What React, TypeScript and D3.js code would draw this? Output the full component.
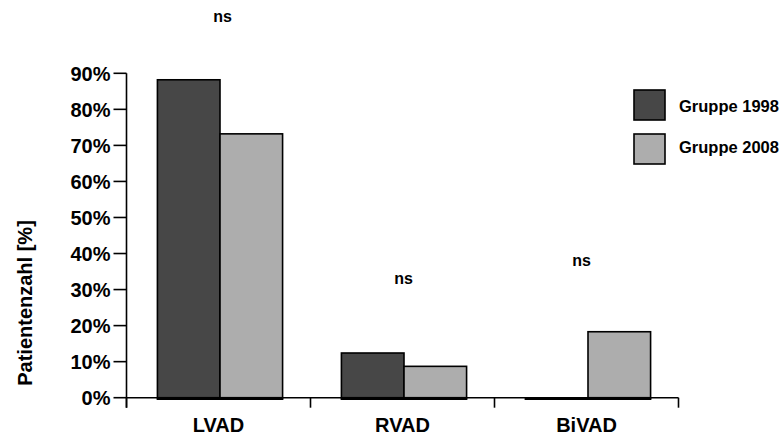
import React from "react";
import * as d3 from "d3";

// Share of patients per assist-device type, by cohort
const categories = ["LVAD", "RVAD", "BiVAD"];
const seriesNames = ["Gruppe 1998", "Gruppe 2008"];
const gruppe1998 = [88.2, 12.4, 0];
const gruppe2008 = [73.2, 8.7, 18.3];
const yTicks = [0, 10, 20, 30, 40, 50, 60, 70, 80, 90];
// Significance annotations: category, height (in % units)
const nsCategories = ["LVAD", "RVAD", "BiVAD"];
const nsLevels = [104.2, 31.5, 36.5];
const nsText = ["ns", "ns", "ns"];

const W = 784;
const H = 435;
const colors = ["#474747", "#adadad"];
const FONT = "'Liberation Sans', Arial, sans-serif";

export default function App() {
  const left = 126.5;
  const right = 678.5;
  const y = d3.scaleLinear().domain([0, 90]).range([397.7, 73.3]);
  const x = d3.scaleBand<string>().domain(categories).range([left, right]).padding(0);
  const xSub = d3
    .scaleBand<string>()
    .domain(seriesNames)
    .range([0, x.bandwidth()])
    .paddingInner(0)
    .paddingOuter(0.47);
  const series = [gruppe1998, gruppe2008];
  const y0 = y(0);

  return (
    <svg
      width={W}
      height={H}
      style={{ position: "absolute", left: 0, top: 0, background: "#fff" }}
      fontFamily={FONT}
      fontWeight="bold"
    >
      {/* bars */}
      {categories.map((c, i) => (
        <g key={c} transform={`translate(${x(c)! + 1.5},0)`}>
          {series.map((vals, s) => {
            const bx = xSub(seriesNames[s])!;
            const by = y(vals[i]);
            return (
              <g key={s}>
                <rect
                  x={bx}
                  y={by}
                  width={xSub.bandwidth()}
                  height={Math.max(0, y0 - by)}
                  fill={colors[s]}
                  stroke="#000"
                  strokeWidth={1.6}
                />
                <line
                  x1={bx - 0.8}
                  x2={bx + xSub.bandwidth() + 0.8}
                  y1={y0 + 0.8}
                  y2={y0 + 0.8}
                  stroke="#000"
                  strokeWidth={3}
                />
              </g>
            );
          })}
        </g>
      ))}

      {/* y axis */}
      <line x1={left} x2={left} y1={y(90)} y2={y0 + 10} stroke="#000" strokeWidth={1.6} />
      {yTicks.map((t) => (
        <g key={t}>
          <line x1={left - 13} x2={left} y1={y(t)} y2={y(t)} stroke="#000" strokeWidth={1.6} />
          <text
            x={left - 16}
            y={y(t)}
            dy="0.36em"
            textAnchor="end"
            fontSize={20}
            fill="#000"
          >
            {t}%
          </text>
        </g>
      ))}

      {/* x axis */}
      <line x1={left} x2={right} y1={y0} y2={y0} stroke="#000" strokeWidth={1.6} />
      {[...categories.map((c) => x(c)!), right].map((px, i) => (
        <line key={i} x1={px} x2={px} y1={y0} y2={y0 + 10} stroke="#000" strokeWidth={1.6} />
      ))}
      {categories.map((c) => (
        <text
          key={c}
          x={x(c)! + x.bandwidth() / 2}
          y={432}
          textAnchor="middle"
          fontSize={20}
          fill="#000"
        >
          {c}
        </text>
      ))}

      {/* y axis title */}
      <text
        transform={`translate(31.5,303) rotate(-90)`}
        textAnchor="middle"
        fontSize={20}
        fill="#000"
      >
        Patientenzahl [%]
      </text>

      {/* significance labels */}
      {nsCategories.map((c, i) => (
        <text
          key={c}
          x={x(c)! + x.bandwidth() / 2 + (i === 0 ? 4 : i === 2 ? -5 : 1)}
          y={y(nsLevels[i])}
          textAnchor="middle"
          fontSize={16}
          fill="#000"
        >
          {nsText[i]}
        </text>
      ))}

      {/* legend */}
      {seriesNames.map((name, s) => (
        <g key={name}>
          <rect
            x={634}
            y={90 + s * 44}
            width={31}
            height={30}
            fill={colors[s]}
            stroke="#000"
            strokeWidth={1.6}
          />
          <text x={679} y={112 + s * 41} fontSize={16.5} fill="#000">
            {name}
          </text>
        </g>
      ))}
    </svg>
  );
}
